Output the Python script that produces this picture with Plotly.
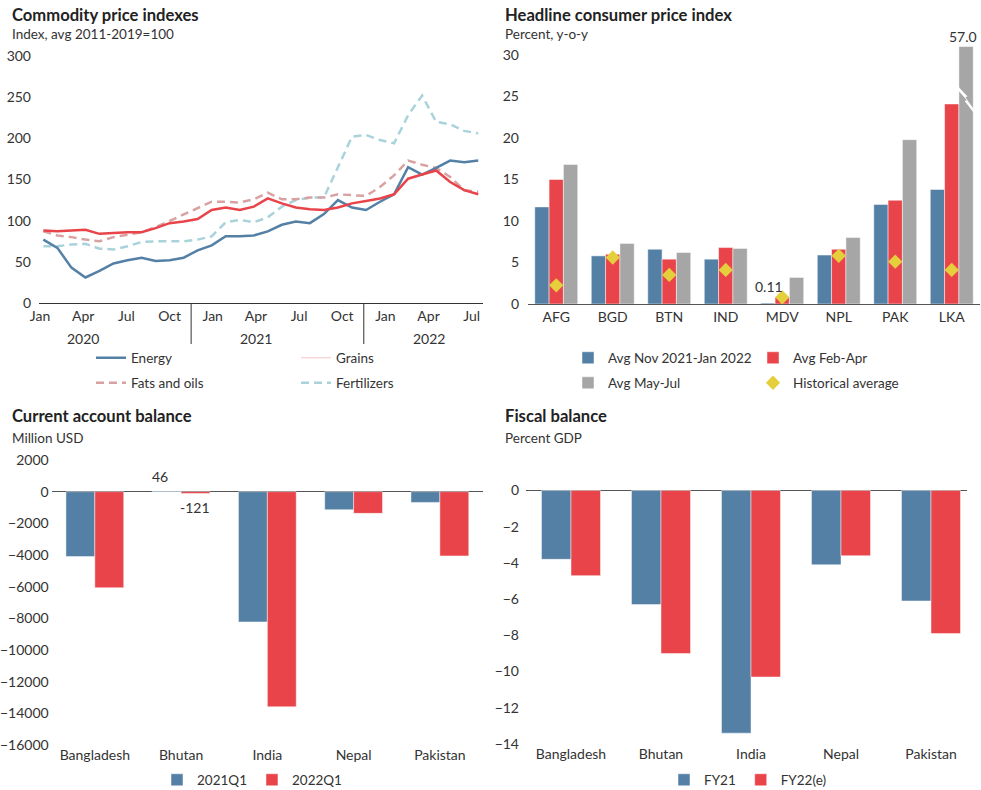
import plotly.graph_objects as go

W, H = 981, 790
FONT = "Lato"
TXT = "#333333"
BLUE = "#5480a6"
RED = "#e8444a"
GRAY = "#a6a6a6"
YELLOW = "#e6cf3c"
PINK = "#d8a2a2"
LIGHTBLUE = "#a9d3db"


def px_x(p):
    return p / W


def px_y(p):
    return 1 - p / H


# ---------------- Panel 1: Commodity price indexes ----------------
month_index = list(range(32))  # Jan 2020 .. Aug 2022
energy = [77, 67, 43, 31, 39, 48, 52, 55, 51, 52, 55, 64, 70, 81, 81, 82, 87, 95, 99, 97,
          108, 125, 116, 113, 123, 132, 165, 156, 164, 173, 171, 173]
grains = [88, 87, 88, 89, 84, 85, 86, 86, 91, 97, 99, 102, 113, 116, 113, 117, 127, 121, 116, 114,
          113, 116, 121, 124, 127, 132, 151, 156, 161, 147, 137, 132]
fats_oils = [87, 82, 80, 77, 75, 80, 83, 86, 92, 100, 108, 116, 123, 123, 122, 126, 134, 126, 126, 128,
             128, 132, 131, 130, 141, 155, 173, 168, 164, 153, 137, 135]
fertilizers = [69, 69, 71, 72, 66, 65, 69, 74, 75, 75, 75, 77, 81, 98, 101, 98, 104, 117, 125, 128,
               128, 165, 202, 204, 198, 194, 228, 252, 220, 217, 209, 206]
month_ticks = ["Jan", "Apr", "Jul", "Oct", "Jan", "Apr", "Jul", "Oct", "Jan", "Apr", "Jul"]
years = ["2020", "2021", "2022"]
tick_start, tick_step = -0.235, 3.077
tick_pos = [tick_start + tick_step * k for k in range(len(month_ticks))]
year_pos = [tick_pos[1], tick_pos[5], tick_pos[9]]
sep_pos = [(tick_pos[3] + tick_pos[4]) / 2, (tick_pos[7] + tick_pos[8]) / 2]

# ---------------- Panel 2: Headline CPI ----------------
cpi_countries = ["AFG", "BGD", "BTN", "IND", "MDV", "NPL", "PAK", "LKA"]
cpi_nov_jan = [11.7, 5.8, 6.6, 5.4, 0.11, 5.9, 12.0, 13.8]
cpi_feb_apr = [15.0, 6.0, 5.4, 6.8, 0.8, 6.6, 12.5, 24.1]
cpi_may_jul = [16.8, 7.3, 6.2, 6.7, 3.2, 8.0, 19.8, 57.0]
cpi_hist = [2.25, 5.6, 3.5, 4.1, 0.8, 5.8, 5.1, 4.1]
cpi_axis_max = 31

# ---------------- Panel 3: Current account balance ----------------
ca_countries = ["Bangladesh", "Bhutan", "India", "Nepal", "Pakistan"]
ca_2021q1 = [-4100, 46, -8230, -1140, -680]
ca_2022q1 = [-6070, -121, -13590, -1370, -4060]

# ---------------- Panel 4: Fiscal balance ----------------
fb_countries = ["Bangladesh", "Bhutan", "India", "Nepal", "Pakistan"]
fb_fy21 = [-3.8, -6.3, -13.4, -4.1, -6.1]
fb_fy22e = [-4.7, -9.0, -10.3, -3.6, -7.9]

fig = go.Figure()

# Panel 1 traces
fig.add_trace(go.Scatter(x=month_index, y=fertilizers, mode="lines", name="Fertilizers",
                         line=dict(color=LIGHTBLUE, width=2.5, dash="8px,5px"),
                         xaxis="x", yaxis="y", legend="legend2", legendrank=2))
fig.add_trace(go.Scatter(x=month_index, y=fats_oils, mode="lines", name="Fats and oils",
                         line=dict(color=PINK, width=2.5, dash="8px,5px"),
                         xaxis="x", yaxis="y", legend="legend2", legendrank=1))
fig.add_trace(go.Scatter(x=month_index, y=energy, mode="lines", name="Energy",
                         line=dict(color=BLUE, width=2.5), xaxis="x", yaxis="y", legend="legend"))
fig.add_trace(go.Scatter(x=month_index, y=grains, mode="lines", name="Grains", showlegend=False,
                         line=dict(color=RED, width=2.5), xaxis="x", yaxis="y"))
fig.add_trace(go.Scatter(x=[None], y=[None], mode="lines", name="Grains",
                         line=dict(color="#f6c4c4", width=1), xaxis="x", yaxis="y", legend="legend"))

# Panel 2 traces
bar_line = dict(color="rgba(255,255,255,0.6)", width=0.8)
fig.add_trace(go.Bar(x=cpi_countries, y=cpi_nov_jan, name="Avg Nov 2021-Jan 2022",
                     marker=dict(color=BLUE, line=bar_line), xaxis="x2", yaxis="y2", legend="legend3"))
fig.add_trace(go.Bar(x=cpi_countries, y=cpi_feb_apr, name="Avg Feb-Apr",
                     marker=dict(color=RED, line=bar_line), xaxis="x2", yaxis="y2", legend="legend3"))
fig.add_trace(go.Bar(x=cpi_countries, y=cpi_may_jul, name="Avg May-Jul",
                     marker=dict(color=GRAY, line=bar_line), xaxis="x2", yaxis="y2", legend="legend4"))
fig.add_trace(go.Scatter(x=cpi_countries, y=cpi_hist, mode="markers", name="Historical average",
                         marker=dict(symbol="diamond", size=11, color=YELLOW),
                         xaxis="x2", yaxis="y2", legend="legend4"))

# Panel 3 traces (explicit bar width/offset so bar gaps differ from the top panel)
CA_W = 0.335
fig.add_trace(go.Bar(x=ca_countries, y=ca_2021q1, name="2021Q1", width=CA_W, offset=-CA_W,
                     marker=dict(color=BLUE, line=bar_line), xaxis="x3", yaxis="y3", legend="legend5"))
fig.add_trace(go.Bar(x=ca_countries, y=ca_2022q1, name="2022Q1", width=CA_W, offset=0,
                     marker=dict(color=RED, line=bar_line), xaxis="x3", yaxis="y3", legend="legend5"))

# Panel 4 traces
FB_W = 0.328
fig.add_trace(go.Bar(x=fb_countries, y=fb_fy21, name="FY21", width=FB_W, offset=-FB_W,
                     marker=dict(color=BLUE, line=bar_line), xaxis="x4", yaxis="y4", legend="legend6"))
fig.add_trace(go.Bar(x=fb_countries, y=fb_fy22e, name="FY22(e)", width=FB_W, offset=0,
                     marker=dict(color=RED, line=bar_line), xaxis="x4", yaxis="y4", legend="legend6"))

tickfont = dict(family=FONT, size=14, color=TXT)
common_x = dict(showgrid=False, zeroline=False, ticks="", tickfont=tickfont, fixedrange=True,
                automargin=False)
common_y = dict(showgrid=False, ticks="", tickfont=tickfont, showline=False, fixedrange=True,
                automargin=False)

fig.update_layout(
    width=W, height=H,
    margin=dict(l=0, r=0, t=0, b=0, pad=0, autoexpand=False),
    paper_bgcolor="white", plot_bgcolor="white",
    font=dict(family=FONT, size=14, color=TXT),
    barmode="group",
    bargap=0.24,
    xaxis=dict(common_x, domain=[px_x(39), px_x(483)], range=[-0.31, 31.34], anchor="y",
               tickmode="array", tickvals=tick_pos, ticktext=month_ticks,
               showline=True, linecolor="#333333", linewidth=1),
    yaxis=dict(common_y, domain=[px_y(303), px_y(56)], range=[0, 300], anchor="x",
               tickvals=list(range(0, 301, 50)), zeroline=False, ticklabelstandoff=7),
    xaxis2=dict(common_x, domain=[px_x(528), px_x(980)], range=[-0.5, 7.5], anchor="y2",
                type="category", showline=True, linecolor="#555555", linewidth=1),
    yaxis2=dict(common_y, domain=[px_y(304), px_y(46.7)], range=[0, cpi_axis_max], anchor="x2",
                tickvals=list(range(0, 31, 5)), zeroline=False, ticklabelstandoff=8),
    xaxis3=dict(common_x, domain=[px_x(51.7), px_x(483)], range=[-0.5, 4.5], anchor="y3",
                type="category", showline=False),
    yaxis3=dict(common_y, domain=[px_y(745), px_y(460)], range=[-16000, 2000], anchor="x3",
                tickvals=list(range(-16000, 2001, 2000)), tickformat="d", zeroline=True,
                zerolinecolor="#555555", zerolinewidth=1, ticklabelstandoff=2),
    xaxis4=dict(common_x, domain=[px_x(526), px_x(967)], range=[-0.5, 4.4], anchor="y4",
                type="category", showline=False),
    yaxis4=dict(common_y, domain=[px_y(744), px_y(490)], range=[-14, 0.03], anchor="x4",
                tickvals=list(range(-14, 1, 2)), zeroline=True,
                zerolinecolor="#555555", zerolinewidth=1, ticklabelstandoff=6),
)

legend_font = dict(family=FONT, size=13.5, color=TXT)


def legend_cfg(x_px, y_px, entrywidth=None):
    cfg = dict(orientation="h", x=px_x(x_px), xanchor="left", y=px_y(y_px), yanchor="middle",
               xref="paper", yref="paper",
               font=legend_font, bgcolor="rgba(0,0,0,0)", traceorder="normal",
               itemclick=False, itemdoubleclick=False)
    if entrywidth:
        cfg.update(entrywidth=entrywidth, entrywidthmode="pixels")
    return cfg


fig.update_layout(
    legend=legend_cfg(91, 358, 160),
    legend2=legend_cfg(91, 383, 160),
    legend3=legend_cfg(568, 358, 140),
    legend4=legend_cfg(568, 383, 140),
    legend5=legend_cfg(157, 780),
    legend6=legend_cfg(664, 780),
)

# Titles
title_font = dict(family=FONT, size=16.6, color="#222222", weight="bold")
sub_font = dict(family=FONT, size=13.5, color=TXT)
annotations = []
for (tx, ty, title, sub, gap) in [
    (10, 15, "Commodity price indexes", "Index, avg 2011-2019=100", 19),
    (503, 15, "Headline consumer price index", "Percent, y-o-y", 19),
    (10, 416, "Current account balance", "Million USD", 22),
    (503, 416, "Fiscal balance", "Percent GDP", 22),
]:
    annotations.append(dict(xref="paper", yref="paper", x=px_x(tx), y=px_y(ty), text=title,
                            xanchor="left", yanchor="middle", showarrow=False, font=title_font))
    annotations.append(dict(xref="paper", yref="paper", x=px_x(tx), y=px_y(ty + gap), text=sub,
                            xanchor="left", yanchor="middle", showarrow=False, font=sub_font))

# Year labels under the month axis
for yr, pos in zip(years, year_pos):
    annotations.append(dict(xref="x", yref="paper", x=pos, y=px_y(338), text=yr, showarrow=False,
                            xanchor="center", yanchor="middle", font=tickfont))

# Value labels
mdv = cpi_countries.index("MDV")
annotations.append(dict(xref="x2", yref="y2", x=cpi_countries[mdv], y=cpi_nov_jan[mdv],
                        text=f"{cpi_nov_jan[mdv]:.2f}", showarrow=False, xshift=-13, yshift=17,
                        font=tickfont))
lka = cpi_countries.index("LKA")
annotations.append(dict(xref="x2", yref="y2", x=cpi_countries[lka], y=cpi_axis_max,
                        text=f"{cpi_may_jul[lka]:.1f}", showarrow=False, xshift=11, yshift=10,
                        font=tickfont))
btn = ca_countries.index("Bhutan")
annotations.append(dict(xref="x3", yref="y3", x=ca_countries[btn], y=ca_2021q1[btn],
                        text=f"{ca_2021q1[btn]}", showarrow=False, xshift=-21, yshift=14,
                        font=tickfont))
annotations.append(dict(xref="x3", yref="y3", x=ca_countries[btn], y=ca_2022q1[btn],
                        text=f"{ca_2022q1[btn]}", showarrow=False, xshift=14, yshift=-14,
                        font=tickfont))
fig.update_layout(annotations=annotations)

# Shapes: year separators and axis break on the LKA bar
shapes = []
for s in sep_pos:
    shapes.append(dict(type="line", xref="x", yref="paper", x0=s, x1=s, y0=px_y(303), y1=px_y(344),
                       line=dict(color="#333333", width=1)))
bw = (1 - 0.24) / 3
bx0 = lka + bw / 2
bx1 = lka + 1.5 * bw
span = bx1 - bx0


def bx(f):
    return bx0 + f * span


pts = [(-0.1, 26.3), (0.6, 25.0), (0.45, 24.9), (1.15, 23.2), (1.15, 22.8), (0.4, 24.45),
       (0.55, 24.55), (-0.1, 25.85)]
path = "M " + " L ".join(f"{bx(f):.4f},{v}" for f, v in pts) + " Z"
shapes.append(dict(type="path", xref="x2", yref="y2", path=path, fillcolor="white",
                   line=dict(width=0)))
fig.update_layout(shapes=shapes)

fig.write_html("out.html", config={"displayModeBar": False},
               post_script="document.body.style.margin='0px';")
